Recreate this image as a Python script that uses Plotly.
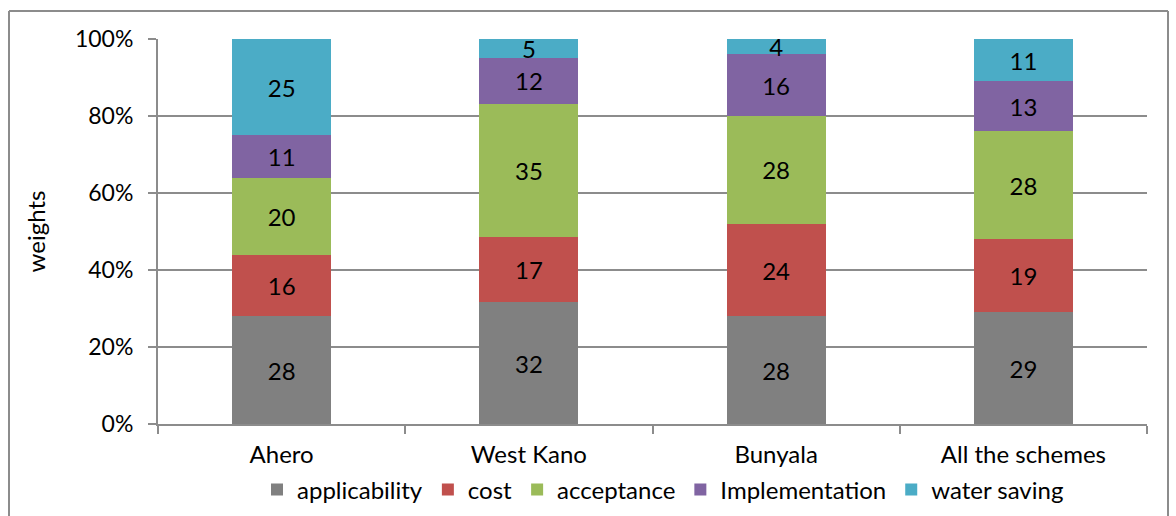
import plotly.graph_objects as go

# Weight shares of each criterion per irrigation scheme
schemes = ["Ahero", "West Kano", "Bunyala", "All the schemes"]
criteria = ["applicability", "cost", "acceptance", "Implementation", "water saving"]
applicability = [28, 32, 28, 29]
cost = [16, 17, 24, 19]
acceptance = [20, 35, 28, 28]
implementation = [11, 12, 16, 13]
water_saving = [25, 5, 4, 11]
y_ticks = [0, 20, 40, 60, 80, 100]
y_tick_labels = ["0%", "20%", "40%", "60%", "80%", "100%"]

series = [applicability, cost, acceptance, implementation, water_saving]
colors = ["#808080", "#C0504D", "#9BBB59", "#8064A2", "#4BACC6"]

FONT = "Lato, 'Open Sans', sans-serif"
FS = 23

fig = go.Figure()
for name, vals, col in zip(criteria, series, colors):
    fig.add_trace(go.Bar(
        x=schemes, y=vals, name=name,
        marker=dict(color=col, line=dict(width=0)),
        text=[str(v) for v in vals],
        textposition="inside",
        insidetextanchor="middle",
        textangle=0,
        textfont=dict(family=FONT, size=24, color="black"),
        hoverinfo="skip",
    ))

W, H = 1176, 516
L, R, T, B = 158, 29, 39, 92
pw, ph = W - L - R, H - T - B

def px_x(x):
    return (x - L) / pw

def px_y(y):
    return (H - B - y) / ph

fig.update_layout(
    width=W, height=H,
    barmode="stack", barnorm="percent", bargap=0.6,
    margin=dict(l=L, r=R, t=T, b=B, autoexpand=False),
    paper_bgcolor="white", plot_bgcolor="white",
    font=dict(family=FONT, size=FS, color="black"),
    uniformtext=dict(minsize=24, mode="show"),
    showlegend=True,
    legend=dict(
        orientation="h", traceorder="normal",
        x=px_x(663), xanchor="center",
        y=px_y(490), yanchor="middle",
        font=dict(family=FONT, size=24, color="black"),
        itemwidth=30, bgcolor="rgba(0,0,0,0)",
    ),
    xaxis=dict(
        showgrid=False, showline=True, linecolor="#8c8c8c", linewidth=2,
        ticks="outside", tickson="boundaries", ticklen=8, tickcolor="#8c8c8c",
        tickwidth=2, tickfont=dict(size=24), ticklabelstandoff=8,
    ),
    yaxis=dict(
        range=[0, 100], tickmode="array", tickvals=y_ticks, ticktext=y_tick_labels,
        showgrid=True, gridcolor="#8c8c8c", gridwidth=2,
        showline=True, linecolor="#8c8c8c", linewidth=2,
        ticks="outside", ticklen=8, tickcolor="#8c8c8c", tickwidth=2,
        tickfont=dict(size=FS), zeroline=False, ticklabelstandoff=10,
        title=dict(text="weights", font=dict(size=24), standoff=23),
    ),
)

# Outer frame: top edge and two sides (open at the bottom edge of the page)
for x0, y0, x1, y1 in [(9, 11, 1168, 11), (9, 11, 9, 530), (1168, 11, 1168, 530)]:
    fig.add_shape(type="line", xref="paper", yref="paper",
                  x0=px_x(x0), y0=px_y(y0), x1=px_x(x1), y1=px_y(y1),
                  line=dict(color="#8c8c8c", width=2))

fig.write_html("out.html")
